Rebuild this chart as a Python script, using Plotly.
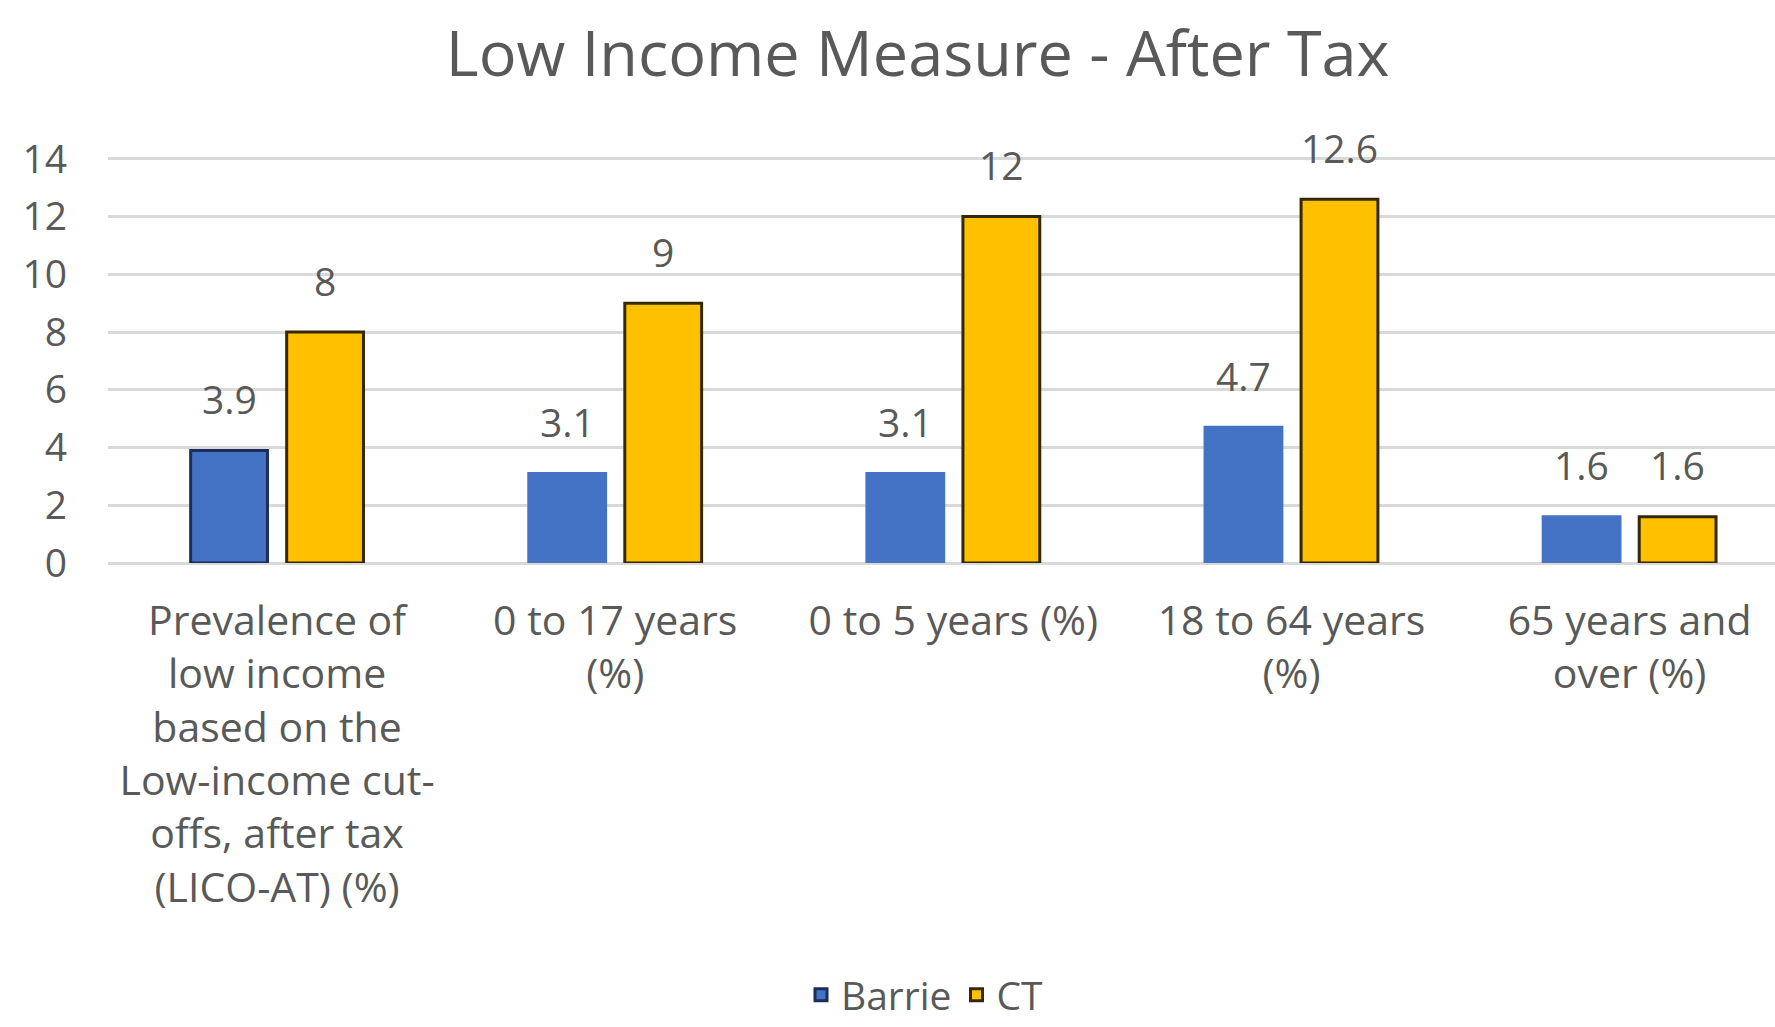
import plotly.graph_objects as go

categories = [
    "Prevalence of<br>low income<br>based on the<br>Low-income cut-<br>offs, after tax<br>(LICO-AT) (%)",
    "0 to 17 years<br>(%)",
    "0 to 5 years (%)",
    "18 to 64 years<br>(%)",
    "65 years and<br>over (%)",
]
barrie = [3.9, 3.1, 3.1, 4.7, 1.6]
ct = [8, 9, 12, 12.6, 1.6]
y_ticks = [0, 2, 4, 6, 8, 10, 12, 14]

FONT = "Open Sans"
GRAY = "#595959"
BLUE = "#4472C4"
GOLD = "#FFC000"

fig = go.Figure()
fig.add_trace(go.Bar(
    name="Barrie", x=categories, y=barrie,
    marker=dict(color=BLUE,
                line=dict(color=["#1c2d5a", BLUE, BLUE, BLUE, BLUE], width=3)),
))
fig.add_trace(go.Bar(
    name="CT", x=categories, y=ct,
    marker=dict(color=GOLD, line=dict(color="#33280a", width=3)),
))

for vals, shift in ((barrie, -48), (ct, 48)):
    for c, v in zip(categories, vals):
        fig.add_annotation(x=c, y=v, text=f"{v:g}", showarrow=False,
                           xshift=shift, yshift=52, yanchor="middle",
                           font=dict(family=FONT, size=39, color=GRAY))

fig.update_layout(
    width=1775, height=1027,
    margin=dict(l=108, r=0, t=156, b=464),
    paper_bgcolor="white", plot_bgcolor="white",
    barmode="group", bargap=0.432, bargroupgap=0.2,
    font=dict(family=FONT, color=GRAY),
    title=dict(text="Low Income Measure - After Tax", x=0.517, xref="container",
               xanchor="center", y=1 - 54 / 1027, yref="container", yanchor="middle",
               font=dict(family=FONT, size=63, color=GRAY)),
    legend=dict(orientation="h", x=925 / 1775, xref="container", xanchor="center",
                y=-0.006, yref="container", yanchor="bottom",
                font=dict(family=FONT, size=39, color=GRAY), traceorder="normal"),
    showlegend=True,
)
fig.update_yaxes(range=[0, 14.1], tickvals=y_ticks, showgrid=True, gridcolor="#d9d9d9",
                 gridwidth=3, zeroline=True, zerolinecolor="#d9d9d9", zerolinewidth=3,
                 showline=False, tickfont=dict(family=FONT, size=39, color=GRAY),
                 ticklabelstandoff=40)
fig.update_xaxes(range=[-0.5, 4.43], showline=False, showgrid=False,
                 tickfont=dict(family=FONT, size=41, color=GRAY),
                 ticklabelstandoff=30, tickangle=0)

fig.write_html("out.html")
